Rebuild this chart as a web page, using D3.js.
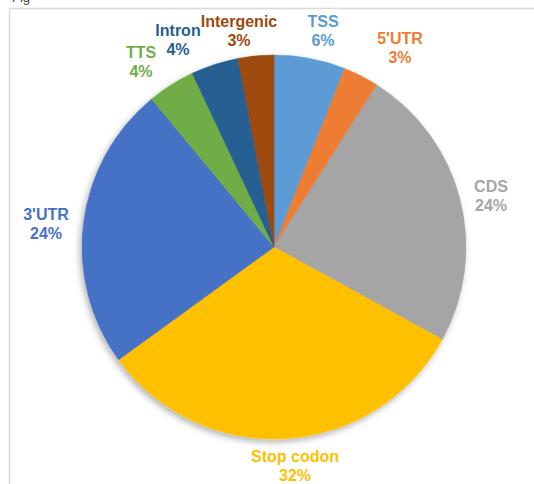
<!DOCTYPE html>
<html>
<head>
<meta charset="utf-8">
<script src="https://cdn.jsdelivr.net/npm/d3@7"></script>
<style>
  body { margin: 0; background: #fff; }
  svg { display: block; }
</style>
</head>
<body>
<div id="chart"></div>
<script>
// Data
const categories = ["TSS", "5'UTR", "CDS", "Stop codon", "3'UTR", "TTS", "Intron", "Intergenic"];
const percents = [6, 3, 24, 32, 24, 4, 4, 3];
const colors = ["#5B9BD5", "#ED7D31", "#A5A5A5", "#FFC000", "#4472C4", "#70AD47", "#255E91", "#9E480E"];
// label anchor (centre of first line baseline)
const labelPos = [[323, 27], [400, 44], [491, 192], [295, 462], [46, 220], [141, 58], [178, 36], [239, 27]];

const W = 534, H = 484;
const cx = 274, cy = 247, r = 192;

const svg = d3.select("#chart")
  .append("svg")
  .attr("width", W)
  .attr("height", H);

// drop shadow like the spreadsheet pie
const defs = svg.append("defs");
const f = defs.append("filter").attr("id", "shadow")
  .attr("x", "-20%").attr("y", "-20%").attr("width", "140%").attr("height", "140%");
f.append("feDropShadow")
  .attr("dx", -2).attr("dy", 3)
  .attr("stdDeviation", 3)
  .attr("flood-color", "#000")
  .attr("flood-opacity", 0.3);

// frame of the figure panel
svg.append("line")
  .attr("x1", 9.5).attr("x2", 9.5).attr("y1", 8).attr("y2", H)
  .attr("stroke", "#d9d9d9").attr("stroke-width", 1.5);
svg.append("line")
  .attr("x1", 9).attr("x2", W).attr("y1", 8.5).attr("y2", 8.5)
  .attr("stroke", "#d9d9d9").attr("stroke-width", 1.5);

// cut-off caption at the very top
svg.append("text")
  .attr("x", 12).attr("y", 2)
  .attr("font-family", "Liberation Sans, Arial, sans-serif")
  .attr("font-size", 13)
  .attr("fill", "#444")
  .text("Fig");

// Pie
const pie = d3.pie().sort(null).value(d => d);
const arc = d3.arc().innerRadius(0).outerRadius(r);
const arcs = pie(percents);

const g = svg.append("g")
  .attr("transform", `translate(${cx},${cy})`)
  .attr("filter", "url(#shadow)");

g.selectAll("path")
  .data(arcs)
  .enter()
  .append("path")
  .attr("d", arc)
  .attr("fill", (d, i) => colors[i])
  .attr("stroke", (d, i) => colors[i])
  .attr("stroke-width", 0.5);

// Labels
const labels = svg.append("g")
  .attr("font-family", "Liberation Sans, Arial, sans-serif")
  .attr("font-size", 16)
  .attr("font-weight", "bold")
  .attr("text-anchor", "middle");

categories.forEach((c, i) => {
  const t = labels.append("text")
    .attr("fill", colors[i])
    .attr("x", labelPos[i][0])
    .attr("y", labelPos[i][1]);
  t.append("tspan").attr("x", labelPos[i][0]).text(c);
  t.append("tspan").attr("x", labelPos[i][0]).attr("dy", 19).text(percents[i] + "%");
});
</script>
</body>
</html>
